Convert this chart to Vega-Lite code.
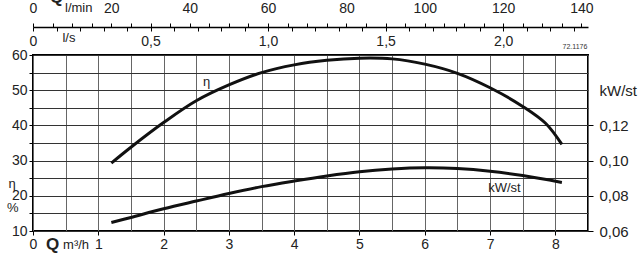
{
  "$schema": "https://vega.github.io/schema/vega-lite/v6.json",
  "width": 555,
  "height": 176,
  "autosize": "none",
  "padding": {"left": 33, "top": 55, "right": 55, "bottom": 26},
  "background": "white",
  "config": {
    "font": "Liberation Sans",
    "view": {"stroke": "#000", "strokeWidth": 2},
    "axis": {"labelFont": "Liberation Sans", "labelColor": "#222", "labelFontSize": 14, "tickColor": "#000", "domainColor": "#000", "title": null}
  },
  "layer": [
    {
      "data": {"values": [
        {"q": 1.2, "eta": 29.3}, {"q": 1.5, "eta": 33.8}, {"q": 2.0, "eta": 40.8}, {"q": 2.5, "eta": 47.0},
        {"q": 3.0, "eta": 51.5}, {"q": 3.5, "eta": 55.0}, {"q": 4.0, "eta": 57.2}, {"q": 4.5, "eta": 58.5},
        {"q": 5.0, "eta": 59.1}, {"q": 5.5, "eta": 58.9}, {"q": 6.0, "eta": 57.4}, {"q": 6.5, "eta": 54.8},
        {"q": 7.0, "eta": 50.7}, {"q": 7.5, "eta": 45.4}, {"q": 7.85, "eta": 40.6}, {"q": 8.1, "eta": 34.6}
      ]},
      "mark": {"type": "line", "interpolate": "catmull-rom", "color": "#111", "strokeWidth": 3},
      "encoding": {
        "x": {"field": "q", "type": "quantitative", "scale": {"domain": [0, 8.5], "nice": false, "zero": false},
          "axis": {"orient": "bottom", "values": [0, 0.5, 1, 1.5, 2, 2.5, 3, 3.5, 4, 4.5, 5, 5.5, 6, 6.5, 7, 7.5, 8, 8.5],
            "labelExpr": "datum.value % 1 === 0 && datum.value < 8.4 ? format(datum.value, 'd') : ''",
            "grid": true, "gridColor": "#666", "gridWidth": 1, "domain": false, "tickSize": 4,
            "tickOpacity": {"condition": {"test": "datum.value % 1 !== 0", "value": 0}, "value": 1},
            "labelPadding": 2, "labelFlush": false, "labelOverlap": false, "title": null}},
        "y": {"field": "eta", "type": "quantitative", "scale": {"domain": [10, 60], "nice": false, "zero": false},
          "axis": {"orient": "left", "values": [10, 15, 20, 25, 30, 35, 40, 45, 50, 55, 60],
            "labelExpr": "datum.value % 10 === 0 ? format(datum.value, 'd') : ''",
            "grid": true, "gridColor": "#333", "gridWidth": 1, "domain": false, "tickSize": 4, "labelPadding": 2,
            "labelFlush": false, "labelOverlap": false, "title": null}}
      }
    },
    {
      "data": {"values": [
        {"q": 1.2, "kw": 0.0648}, {"q": 1.5, "kw": 0.0677}, {"q": 2.0, "kw": 0.0726}, {"q": 2.5, "kw": 0.0770},
        {"q": 3.0, "kw": 0.0813}, {"q": 3.5, "kw": 0.0852}, {"q": 4.0, "kw": 0.0884}, {"q": 4.5, "kw": 0.0913},
        {"q": 5.0, "kw": 0.0937}, {"q": 5.5, "kw": 0.0952}, {"q": 6.0, "kw": 0.0959}, {"q": 6.5, "kw": 0.0955},
        {"q": 7.0, "kw": 0.0940}, {"q": 7.5, "kw": 0.0915}, {"q": 8.1, "kw": 0.0876}
      ]},
      "mark": {"type": "line", "interpolate": "catmull-rom", "color": "#111", "strokeWidth": 3},
      "encoding": {
        "x": {"field": "q", "type": "quantitative", "scale": {"domain": [0, 8.5], "nice": false, "zero": false}, "axis": null},
        "y": {"field": "kw", "type": "quantitative", "scale": {"domain": [0.06, 0.16], "nice": false, "zero": false},
          "axis": {"orient": "right", "values": [0.06, 0.08, 0.1, 0.12, 0.14],
            "labelExpr": "datum.value > 0.13 ? 'kW/st' : replace(format(datum.value, '.2f'), '.', ',')",
            "grid": false, "domain": false, "tickSize": 5, "labelPadding": 6, "labelFontSize": 15,
            "tickOpacity": {"condition": {"test": "datum.value > 0.13", "value": 0}, "value": 1},
            "labelFlush": false, "labelOverlap": false, "title": null}}
      }
    },
    {
      "data": {"values": [{"lmin": 0}, {"lmin": 140}]},
      "mark": {"type": "point", "opacity": 0},
      "encoding": {
        "x": {"field": "lmin", "type": "quantitative", "scale": {"domain": [0, 141.667], "nice": false, "zero": false},
          "axis": {"orient": "top", "offset": 28,
            "values": [0, 5, 10, 15, 20, 25, 30, 35, 40, 45, 50, 55, 60, 65, 70, 75, 80, 85, 90, 95, 100, 105, 110, 115, 120, 125, 130, 135, 140],
            "labelExpr": "datum.value % 20 === 0 ? format(datum.value, 'd') : ''",
            "grid": false, "domain": true, "domainWidth": 1.5, "tickSize": 4, "labelPadding": 8,
            "labelFlush": false, "labelOverlap": false, "title": null}}
      }
    },
    {
      "data": {"values": [{"ls": 0}, {"ls": 2.3}]},
      "mark": {"type": "point", "opacity": 0},
      "encoding": {
        "x": {"field": "ls", "type": "quantitative", "scale": {"domain": [0, 2.3611], "nice": false, "zero": false},
          "axis": {"orient": "bottom", "offset": -204,
            "values": [0, 0.1, 0.2, 0.3, 0.4, 0.5, 0.6, 0.7, 0.8, 0.9, 1.0, 1.1, 1.2, 1.3, 1.4, 1.5, 1.6, 1.7, 1.8, 1.9, 2.0, 2.1, 2.2, 2.3],
            "labelExpr": "datum.value === 0 ? '0' : (abs(datum.value * 2 - round(datum.value * 2)) < 0.001 ? replace(format(datum.value, '.1f'), '.', ',') : '')",
            "grid": false, "domain": false, "tickSize": 4, "labelPadding": 3,
            "labelFlush": false, "labelOverlap": false, "title": null}}
      }
    },
    {
      "data": {"values": [{"q": 0.36, "eta": 76.3, "t": "Q"}, {"q": 0.3, "eta": 6.0, "t": "Q"}]},
      "mark": {"type": "text", "fontWeight": "bold", "fontSize": 17, "color": "#222", "baseline": "middle", "align": "center"},
      "encoding": {
        "x": {"field": "q", "type": "quantitative", "scale": {"domain": [0, 8.5], "nice": false, "zero": false}, "axis": null},
        "y": {"field": "eta", "type": "quantitative", "scale": {"domain": [10, 60], "nice": false, "zero": false}, "axis": null},
        "text": {"field": "t"}
      }
    },
    {
      "data": {"values": [
        {"q": 0.7, "eta": 73.4, "t": "l/min"}, {"q": 0.55, "eta": 64.8, "t": "l/s"}, {"q": 0.66, "eta": 6.0, "t": "m³/h"}
      ]},
      "mark": {"type": "text", "fontSize": 13, "color": "#222", "baseline": "middle", "align": "center"},
      "encoding": {
        "x": {"field": "q", "type": "quantitative", "scale": {"domain": [0, 8.5], "nice": false, "zero": false}, "axis": null},
        "y": {"field": "eta", "type": "quantitative", "scale": {"domain": [10, 60], "nice": false, "zero": false}, "axis": null},
        "text": {"field": "t"}
      }
    },
    {
      "data": {"values": [
        {"q": 7.22, "eta": 22.1, "t": "kW/st"}, {"q": -0.31, "eta": 16.6, "t": "%"},
        {"q": -0.32, "eta": 23.4, "t": "η"}, {"q": 2.66, "eta": 52.4, "t": "η"}
      ]},
      "mark": {"type": "text", "fontSize": 13, "color": "#222", "baseline": "middle", "align": "center"},
      "encoding": {
        "x": {"field": "q", "type": "quantitative", "scale": {"domain": [0, 8.5], "nice": false, "zero": false}, "axis": null},
        "y": {"field": "eta", "type": "quantitative", "scale": {"domain": [10, 60], "nice": false, "zero": false}, "axis": null},
        "text": {"field": "t"}
      }
    },
    {
      "data": {"values": [{"q": 8.3, "eta": 62.3, "t": "72.1176"}]},
      "mark": {"type": "text", "fontSize": 7, "color": "#333", "baseline": "middle", "align": "center"},
      "encoding": {
        "x": {"field": "q", "type": "quantitative", "scale": {"domain": [0, 8.5], "nice": false, "zero": false}, "axis": null},
        "y": {"field": "eta", "type": "quantitative", "scale": {"domain": [10, 60], "nice": false, "zero": false}, "axis": null},
        "text": {"field": "t"}
      }
    }
  ],
  "resolve": {"scale": {"x": "independent", "y": "independent"}}
}
